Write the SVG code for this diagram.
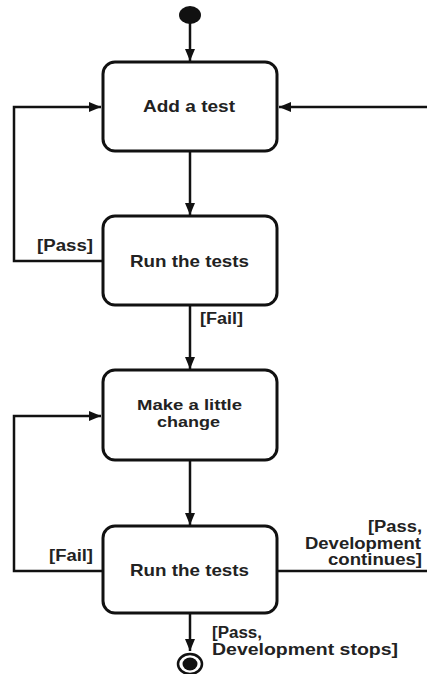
<svg xmlns="http://www.w3.org/2000/svg" width="427" height="674" viewBox="0 0 427 674">
<style>
.box{fill:#fff;stroke:#111;stroke-width:3}
.t{font-family:"Liberation Sans",Arial,sans-serif;font-weight:bold;font-size:16.5px;fill:#222;text-anchor:middle}
.t2{font-size:15.5px}
.l{font-family:"Liberation Sans",Arial,sans-serif;font-weight:bold;font-size:16px;fill:#222}
.c{fill:none;stroke:#111;stroke-width:2.5}
</style>
<defs>
<marker id="ah" viewBox="0 0 12 12" refX="12" refY="6" markerWidth="12" markerHeight="12" markerUnits="userSpaceOnUse" orient="auto">
<path d="M0,1 L12,6 L0,11 Z" fill="#111"/>
</marker>
</defs>
<g id="connectors">
<line class="c" x1="190" y1="22" x2="190" y2="61" marker-end="url(#ah)"/>
<line class="c" x1="190" y1="152" x2="190" y2="215" marker-end="url(#ah)"/>
<line class="c" x1="190" y1="306" x2="190" y2="369" marker-end="url(#ah)"/>
<line class="c" x1="190" y1="461" x2="190" y2="525" marker-end="url(#ah)"/>
<line class="c" x1="190" y1="614" x2="190" y2="651" marker-end="url(#ah)"/>
<polyline class="c" points="102,261 14,261 14,107 101,107" marker-end="url(#ah)"/>
<polyline class="c" points="102,571 14,571 14,416 101,416" marker-end="url(#ah)"/>
<line class="c" x1="427" y1="107" x2="279" y2="107" marker-end="url(#ah)"/>
<line class="c" x1="278" y1="571" x2="427" y2="571"/>
<text class="l" x="37" y="251" textLength="56" lengthAdjust="spacingAndGlyphs">[Pass]</text>
<text class="l" x="200" y="324" textLength="43" lengthAdjust="spacingAndGlyphs">[Fail]</text>
<text class="l" x="49" y="561" textLength="44" lengthAdjust="spacingAndGlyphs">[Fail]</text>
<text class="l" x="368" y="532" textLength="54" lengthAdjust="spacingAndGlyphs">[Pass,</text>
<text class="l" x="305" y="549" textLength="116" lengthAdjust="spacingAndGlyphs">Development</text>
<text class="l" x="328" y="565" textLength="94" lengthAdjust="spacingAndGlyphs">continues]</text>
<text class="l" x="212" y="638" textLength="50" lengthAdjust="spacingAndGlyphs">[Pass,</text>
<text class="l" x="212" y="655" textLength="186" lengthAdjust="spacingAndGlyphs">Development stops]</text>
</g>
<g id="start"><ellipse cx="190" cy="15" rx="11" ry="9" fill="#111"/></g>
<g id="add-test"><rect class="box" x="103" y="62" width="174" height="89" rx="12"/><text class="t" x="189" y="112" textLength="92" lengthAdjust="spacingAndGlyphs">Add a test</text></g>
<g id="run-tests-1"><rect class="box" x="103" y="216" width="174" height="89" rx="12"/><text class="t" x="189.5" y="267" textLength="119" lengthAdjust="spacingAndGlyphs">Run the tests</text></g>
<g id="make-change"><rect class="box" x="103" y="370" width="174" height="90" rx="12"/><text class="t t2" x="189.5" y="410" textLength="105" lengthAdjust="spacingAndGlyphs">Make a little</text><text class="t t2" x="188.5" y="427" textLength="63" lengthAdjust="spacingAndGlyphs">change</text></g>
<g id="run-tests-2"><rect class="box" x="103" y="526" width="174" height="87" rx="12"/><text class="t" x="189.5" y="576" textLength="119" lengthAdjust="spacingAndGlyphs">Run the tests</text></g>
<g id="end"><ellipse cx="190" cy="664" rx="12" ry="10" fill="#fff" stroke="#111" stroke-width="2.5"/><ellipse cx="190" cy="664" rx="7.5" ry="6.5" fill="#111"/></g>
</svg>
